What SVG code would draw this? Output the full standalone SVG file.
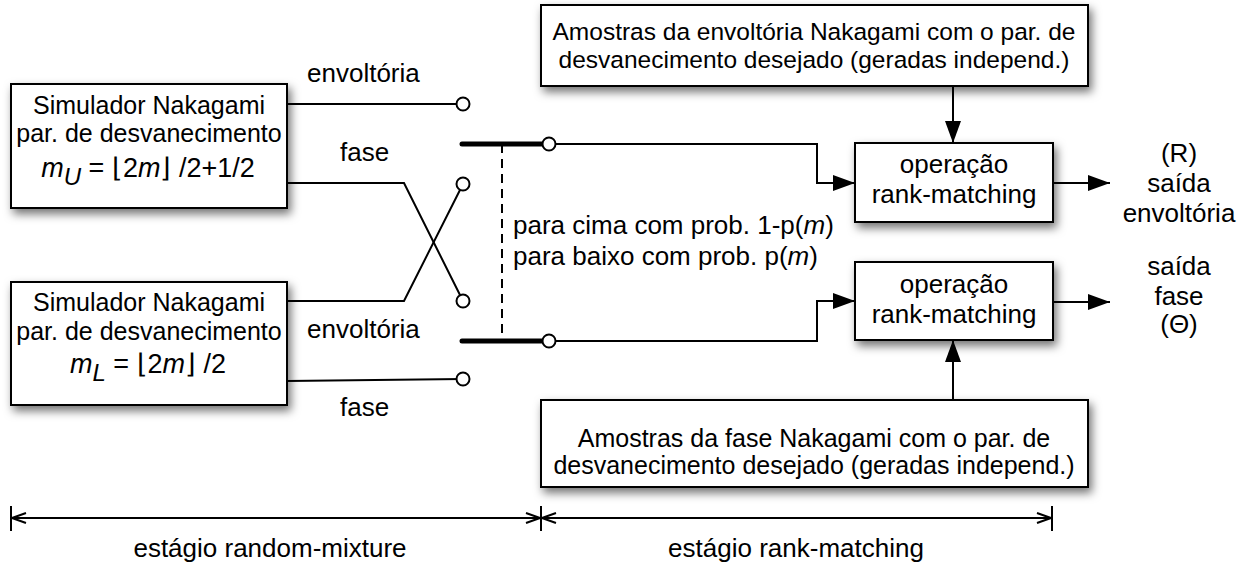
<svg xmlns="http://www.w3.org/2000/svg" width="1249" height="565" viewBox="0 0 1249 565">
<style>
text{font-family:"Liberation Sans",Arial,Helvetica,sans-serif;font-size:26px;fill:#000}
.s25{font-size:25px}
.s24{font-size:24.5px}
.math{font-size:27px}
.box{fill:#fff;stroke:#000;stroke-width:2}
.ln{fill:none;stroke:#000;stroke-width:2}
.bar{fill:none;stroke:#000;stroke-width:5;stroke-linecap:round}
.dash{fill:none;stroke:#000;stroke-width:2;stroke-dasharray:9 6}
.term{fill:#fff;stroke:#000;stroke-width:2}
.c{text-anchor:middle}
.i{font-style:italic}
</style>
<defs>
<filter id="sh" x="-10%" y="-10%" width="130%" height="150%">
<feDropShadow dx="3" dy="5" stdDeviation="5" flood-color="#000" flood-opacity="0.55"/>
</filter>
<marker id="ah" markerWidth="22" markerHeight="16" refX="22" refY="8" orient="auto" markerUnits="userSpaceOnUse">
<path d="M0,0 L22,8 L0,16 Z" fill="#000"/>
</marker>
<marker id="dim" markerWidth="16" markerHeight="12" refX="15" refY="6" orient="auto-start-reverse" markerUnits="userSpaceOnUse">
<path d="M1,1 L15,6 L1,11" fill="none" stroke="#000" stroke-width="2"/>
</marker>
</defs>
<rect width="1249" height="565" fill="#fff"/>

<g id="connectors">
<path class="ln" d="M287,104 H463"/>
<path class="ln" d="M287,183 H404 L463,301"/>
<path class="ln" d="M287,301 H404 L463,184"/>
<path class="ln" d="M287,381 L463,379"/>
<path class="ln" d="M549,144 H817 V183 H855" marker-end="url(#ah)"/>
<path class="ln" d="M549,341 H817 V301 H855" marker-end="url(#ah)"/>
<path class="ln" d="M953,86 V143" marker-end="url(#ah)"/>
<path class="ln" d="M953,400 V340" marker-end="url(#ah)"/>
<path class="ln" d="M1053,183 H1110" marker-end="url(#ah)"/>
<path class="ln" d="M1053,302 H1110" marker-end="url(#ah)"/>
<path class="dash" d="M502,144 V341"/>
</g>

<g id="switch">
<path class="bar" d="M462,144 H549"/>
<path class="bar" d="M462,341 H549"/>
<circle class="term" cx="463" cy="104" r="6.5"/>
<circle class="term" cx="463" cy="184" r="6.5"/>
<circle class="term" cx="463" cy="301" r="6.5"/>
<circle class="term" cx="463" cy="379" r="6.5"/>
<circle class="term" cx="549" cy="144" r="6.5"/>
<circle class="term" cx="549" cy="341" r="6.5"/>
</g>

<g id="sim_upper">
<rect class="box" x="11" y="84" width="276" height="124" filter="url(#sh)"/>
<text class="c s25" x="149" y="114">Simulador Nakagami</text>
<text class="c s25" x="149" y="142">par. de desvanecimento</text>
<text class="c math" x="148" y="177"><tspan class="i">m</tspan><tspan class="i" font-size="24" dy="8">U</tspan><tspan dy="-8"> = ⌊2</tspan><tspan class="i">m</tspan><tspan>⌋ /2+1/2</tspan></text>
</g>

<g id="sim_lower">
<rect class="box" x="11" y="282" width="276" height="123" filter="url(#sh)"/>
<text class="c s25" x="149" y="311">Simulador Nakagami</text>
<text class="c s25" x="149" y="340">par. de desvanecimento</text>
<text class="c math" x="148" y="373"><tspan class="i">m</tspan><tspan class="i" font-size="24" dy="8">L</tspan><tspan dy="-8"> = ⌊2</tspan><tspan class="i">m</tspan><tspan>⌋ /2</tspan></text>
</g>

<g id="amostras_envoltoria">
<rect class="box" x="541" y="5" width="547" height="81" filter="url(#sh)"/>
<text class="c s24" x="814" y="40">Amostras da envoltória Nakagami com o par. de</text>
<text class="c s24" x="814" y="68">desvanecimento desejado (geradas independ.)</text>
</g>

<g id="op_envoltoria">
<rect class="box" x="855" y="143" width="198" height="79" filter="url(#sh)"/>
<text class="c" x="954" y="173">operação</text>
<text class="c" x="954" y="203">rank-matching</text>
</g>

<g id="op_fase">
<rect class="box" x="855" y="262" width="198" height="78" filter="url(#sh)"/>
<text class="c" x="954" y="293">operação</text>
<text class="c" x="954" y="323">rank-matching</text>
</g>

<g id="amostras_fase">
<rect class="box" x="541" y="400" width="547" height="87" filter="url(#sh)"/>
<text class="c s25" x="814" y="447">Amostras da fase Nakagami com o par. de</text>
<text class="c s25" x="814" y="474">desvanecimento desejado (geradas independ.)</text>
</g>

<g id="labels">
<text x="307" y="82">envoltória</text>
<text x="340" y="161">fase</text>
<text x="307" y="338">envoltória</text>
<text x="340" y="416">fase</text>
<text x="513" y="234">para cima com prob. 1-p(<tspan class="i">m</tspan>)</text>
<text x="513" y="265">para baixo com prob. p(<tspan class="i">m</tspan>)</text>
<text class="c" x="1179" y="162">(R)</text>
<text class="c" x="1179" y="192">saída</text>
<text class="c" x="1179" y="222">envoltória</text>
<text class="c" x="1179" y="275">saída</text>
<text class="c" x="1179" y="305">fase</text>
<text class="c" x="1179" y="333">(Θ)</text>
</g>

<g id="stages">
<path class="ln" d="M11,506 V531 M541,506 V531 M1052,506 V531"/>
<path class="ln" d="M12,518 H540" marker-start="url(#dim)" marker-end="url(#dim)"/>
<path class="ln" d="M542,518 H1051" marker-start="url(#dim)" marker-end="url(#dim)"/>
<text class="c" x="270" y="557">estágio random-mixture</text>
<text class="c" x="796" y="557">estágio rank-matching</text>
</g>
</svg>
